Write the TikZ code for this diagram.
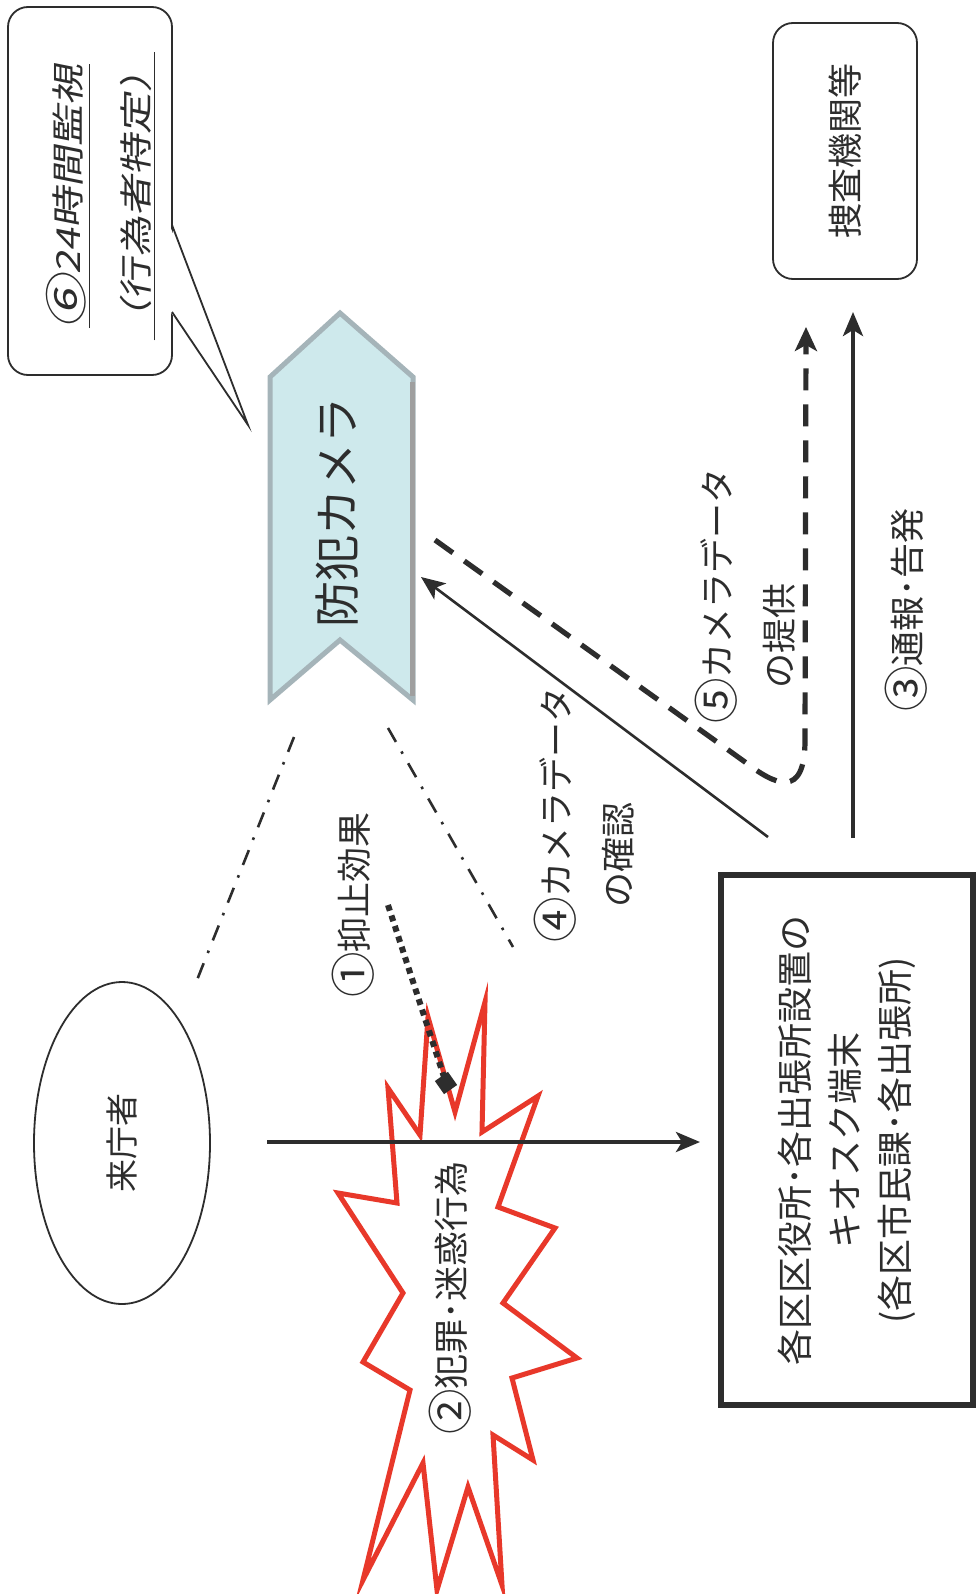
\documentclass[tikz,border=0pt]{standalone}
\usepackage{graphicx}
\usepackage{fontspec}
\setmainfont{Noto Sans CJK JP}
\newfontfamily\calloutfont[FakeSlant=0.2,FakeStretch=1.25]{Noto Sans CJK JP}
\usetikzlibrary{arrows.meta,shapes.geometric}
\definecolor{camfill}{RGB}{206,233,236}
\definecolor{camedge}{RGB}{165,180,185}
\definecolor{burst}{RGB}{232,56,42}
\definecolor{ink}{RGB}{45,45,45}
\newcommand{\cnum}[1]{\raisebox{-0.07em}{\scalebox{1.3}{#1}}}
\begin{document}
\begin{tikzpicture}[x=0.5pt,y=-0.5pt,
  lbl/.style={rotate=90,font=\fontsize{17.5}{31}\selectfont,inner sep=0pt,text=ink},
  solidarrow/.style={draw=ink,line width=1.6pt,-{Stealth[length=12pt,width=10pt,inset=3pt]}},
  dashdot/.style={draw=ink,line width=1.3pt,dash pattern=on 8pt off 5.5pt on 1.3pt off 5.5pt},
  thinline/.style={draw=ink,line width=0.9pt}]
\useasboundingbox (0,0) rectangle (978,1594);
\fill[white] (0,0) rectangle (978,1594);

% callout 6
\draw[thinline,rounded corners=10pt,fill=white] (8,7) rectangle (172,375);
\fill[white] (170,226) -- (248,425) -- (170,311) -- cycle;
\draw[thinline,line join=miter] (172,225) -- (248,425) -- (172,312);
\node[rotate=90,inner sep=0pt,text=ink,align=center,font=\calloutfont\fontsize{16.5}{34}\selectfont] (callout) at (101,196)
  {\underline{\cnum{⑥}24時間監視}\\\underline{（行為者特定）}};

% camera chevron
\draw[draw=camedge,line width=2.5pt,fill=camfill,line join=miter]
  (270,377) -- (340,313) -- (413,377) -- (413,700) -- (340,640) -- (270,700) -- cycle;
\draw[gray!75,line width=2.5pt] (412,382) -- (412,696);
\draw[white,line width=1pt,line join=miter]
  (266,375) -- (340,307) -- (417,375);
\node[lbl,font=\fontsize{23}{26}\selectfont] (cam) at (337,512) {防犯カメラ};

% investigating agencies
\node[lbl,draw=ink,line width=0.9pt,rounded corners=10pt,minimum width=128pt,minimum height=72pt] (sousa) at (845,151) {捜査機関等};

% kiosk box
\node[lbl,draw=ink,line width=3pt,minimum width=265pt,minimum height=126pt,align=center,font=\fontsize{18}{25}\selectfont] (kiosk) at (847,1140)
  {各区区役所･各出張所設置の\\キオスク端末\\(各区市民課･各出張所)};

% visitor
\node[lbl,draw=ink,line width=0.9pt,ellipse,minimum width=161pt,minimum height=88pt,font=\fontsize{16.5}{20}\selectfont] (visitor) at (122,1143) {来庁者};

% burst
\draw[burst,line width=2.5pt,line join=miter,fill=white]
  (485,1002) -- (482,1132) -- (538,1096) -- (498,1207) -- (555,1228) -- (503,1303)
  -- (577,1358) -- (512,1378) -- (533,1460) -- (493,1435) -- (502,1585) -- (468,1487)
  -- (437,1590) -- (423,1463) -- (363,1580) -- (410,1390) -- (363,1362) -- (403,1293)
  -- (338,1193) -- (397,1203) -- (388,1088) -- (420,1135) -- (428,1017) -- (455,1112) -- cycle;

% horizontal arrow visitor -> kiosk
\coordinate (h1) at (267,1142);
\coordinate (h2) at (700,1142);
\draw[solidarrow,line width=2pt] (h1) -- (h2);

% dash-dot view lines
\coordinate (v1) at (294,737);
\coordinate (v2) at (197,980);
\coordinate (v3) at (388,728);
\coordinate (v4) at (513,947);
\draw[dashdot] (v1) -- (v2);
\draw[dashdot] (v3) -- (v4);

% deterrent dotted line
\coordinate (d1) at (388,905);
\coordinate (d2) at (446,1083);
\draw[draw=ink,line width=3pt,dash pattern=on 3pt off 2.5pt] (d1) -- (d2);
\node[fill=ink,minimum size=8pt,inner sep=0pt,rotate=35] (dia) at (d2) {};

% arrow 4
\coordinate (a4s) at (768,837);
\coordinate (a4e) at (421,577);
\draw[solidarrow,line width=1.3pt] (a4s) -- (a4e);

% arrow 5 (dashed)
\coordinate (a5s) at (435,540);
\coordinate (a5m) at (745,762);
\coordinate (a5c) at (805,740);
\coordinate (a5e) at (806,327);
\draw[draw=ink,line width=2.6pt,dash pattern=on 11pt off 7pt,-{Stealth[length=12pt,width=11pt,inset=3pt]}]
  (a5s) -- (a5m) .. controls (775,785) and (805,800) .. (a5c) -- (a5e);

% arrow 3
\coordinate (a3s) at (853,838);
\coordinate (a3e) at (853,312);
\draw[solidarrow,line width=2pt] (a3s) -- (a3e);

% labels
\node[lbl] (l1) at (353,905) {\cnum{①}抑止効果};
\node[lbl] (l2) at (450,1298) {\cnum{②}犯罪･迷惑行為};
\node[lbl,align=left] (l4) at (584,815) {\cnum{④}カメラデータ\\　の確認};
\node[lbl,align=left] (l5) at (745,596) {\cnum{⑤}カメラデータ\\　の提供};
\node[lbl] (l3) at (906,610) {\cnum{③}通報･告発};
\end{tikzpicture}
\end{document}
